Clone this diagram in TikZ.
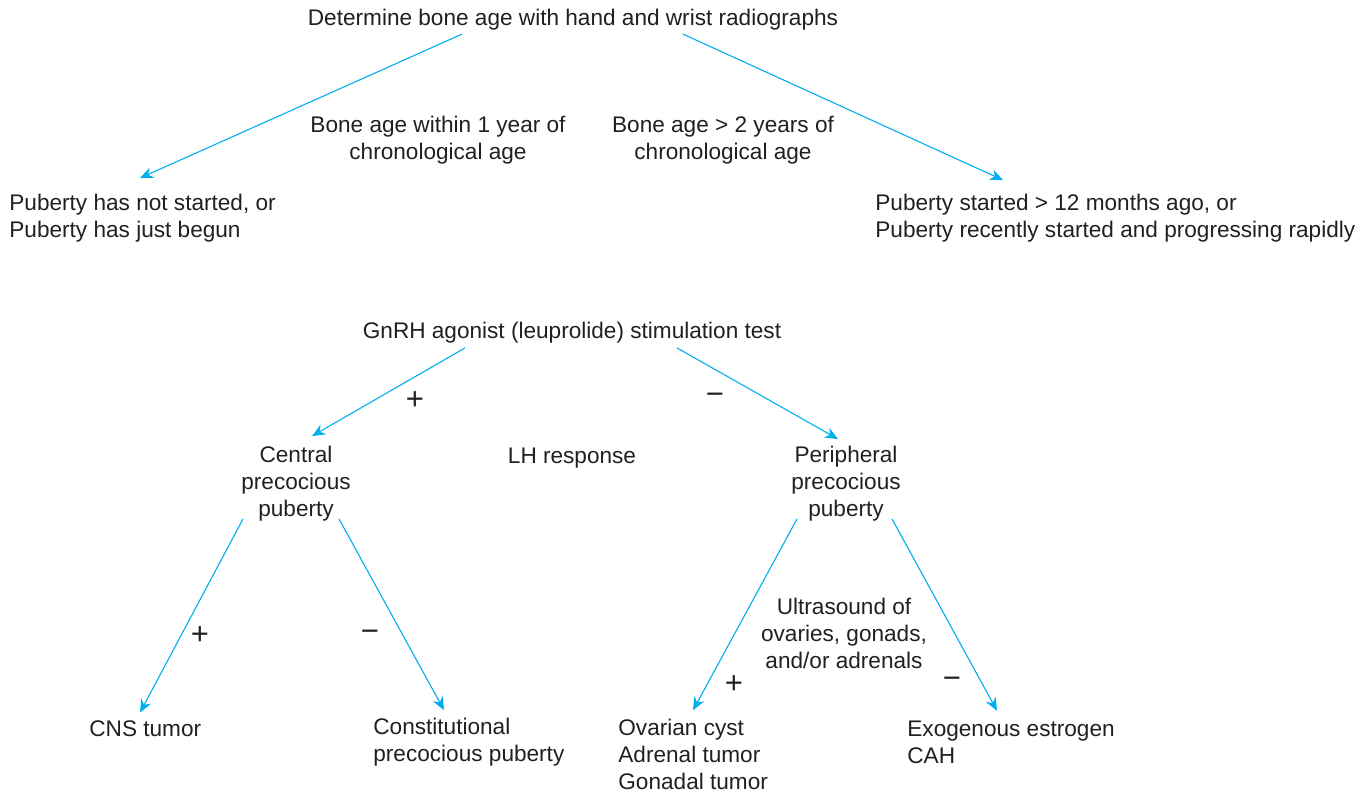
\documentclass[tikz,border=0pt]{standalone}
\usepackage{fontspec}
\setmainfont{Liberation Sans}
\usepackage{tikz}
\usetikzlibrary{arrows.meta, calc}
\definecolor{flowCyan}{RGB}{0, 174, 239}
\definecolor{flowText}{RGB}{35, 31, 32}

\begin{document}
\begin{tikzpicture}[x=0.5pt, y=-0.5pt,
    every node/.style={font=\fontsize{11.3}{13.5}\selectfont, text=flowText, inner sep=0pt},
    txt/.style={align=center},
    ltxt/.style={align=left, anchor=west},
    sign/.style={font=\fontsize{15.5}{16}\selectfont},
    arr/.style={flowCyan, line width=0.55pt, -{Stealth[length=6.5pt, width=5.5pt]}}]
  \useasboundingbox (0,0) rectangle (1370,792);
  % bone age
  \node[txt] (det) at (573,20) {Determine bone age with hand and wrist radiographs};
  \node[txt] (within) at (438,140) {Bone age within 1 year of\\chronological age};
  \node[txt] (greater) at (723,140) {Bone age > 2 years of\\chronological age};
  \node[ltxt] (notStarted) at (9,218.5) {Puberty has not started, or\\Puberty has just begun};
  \node[ltxt] (started) at (875,218.5) {Puberty started > 12 months ago, or\\Puberty recently started and progressing rapidly};
  \draw[arr] ([xshift=-55.5pt, yshift=-1.6pt]det.south) -- ([xshift=65.5pt, yshift=8pt]notStarted.north west);
  \draw[arr] ([xshift=55pt, yshift=-1.6pt]det.south) -- ([xshift=64pt, yshift=7pt]started.north west);
  % LH response
  \node[txt] (gnrh) at (572,333) {GnRH agonist (leuprolide) stimulation test};
  \node[txt] (central) at (296,484) {Central\\precocious\\puberty};
  \node[txt] (lhResp) at (572,458) {LH response};
  \node[txt] (peripheral) at (846,484) {Peripheral\\precocious\\puberty};
  \draw[arr] ([xshift=-53.5pt, yshift=-2pt]gnrh.south) -- ([xshift=8pt, yshift=5pt]central.north);
  \draw[arr] ([xshift=52.5pt, yshift=-2pt]gnrh.south) -- ([xshift=-4pt, yshift=3.5pt]peripheral.north);
  \node[sign] (gnrhPlus) at (415,401) {+};
  \node[sign] (gnrhMinus) at (715,399) {−};
  % central branch
  \node[ltxt] (cns) at (89,729) {CNS tumor};
  \node[ltxt] (constit) at (373,742.5) {Constitutional\\precocious puberty};
  \draw[arr] ([xshift=-26.5pt, yshift=1.5pt]central.south) -- ([xshift=25.5pt, yshift=4pt]cns.north west);
  \draw[arr] ([xshift=21.5pt, yshift=1.5pt]central.south) -- ([xshift=35.5pt, yshift=4pt]constit.north west);
  \node[sign] (cenPlus) at (200,636) {+};
  \node[sign] (cenMinus) at (370,636) {−};
  % peripheral branch
  \node[txt] (ultra) at (844,633) {Ultrasound of\\ovaries, gonads,\\and/or adrenals};
  \node[ltxt] (ovarian) at (618,754) {Ovarian cyst\\Adrenal tumor\\Gonadal tumor};
  \node[ltxt] (exog) at (907,742.5) {Exogenous estrogen\\CAH};
  \draw[arr] ([xshift=-24.5pt, yshift=1.5pt]peripheral.south) -- ([xshift=37.5pt, yshift=4pt]ovarian.north west);
  \draw[arr] ([xshift=23pt, yshift=1.5pt]peripheral.south) -- ([xshift=45pt, yshift=5pt]exog.north west);
  \node[sign] (perPlus) at (734,685) {+};
  \node[sign] (perMinus) at (952,683) {−};
\end{tikzpicture}
\end{document}
